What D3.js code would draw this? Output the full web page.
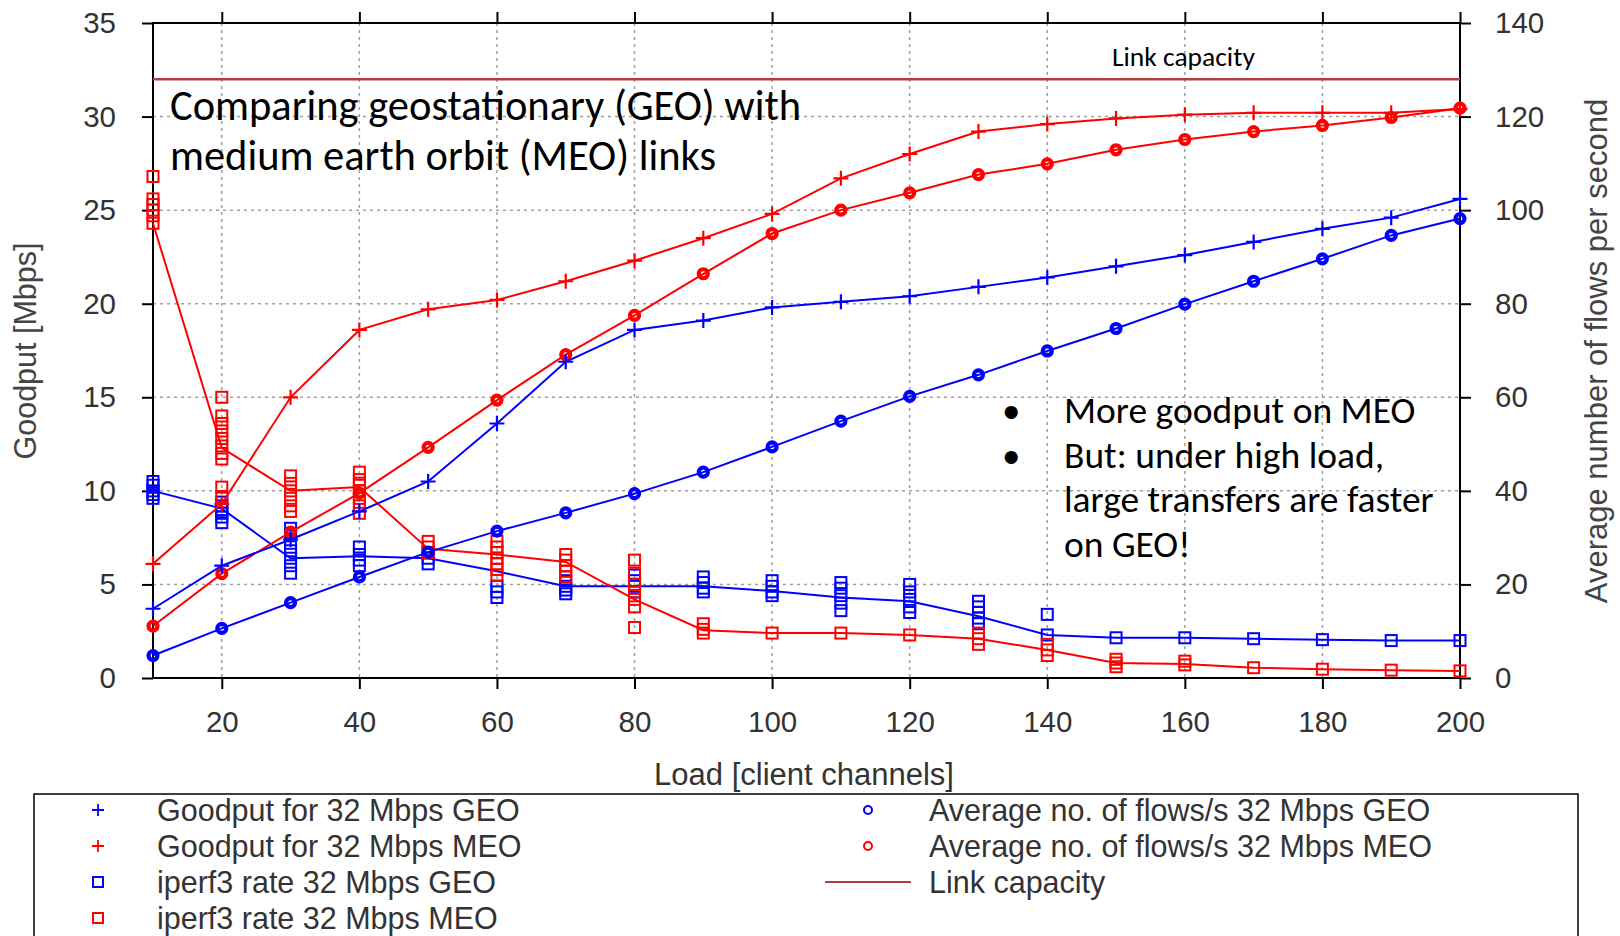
<!DOCTYPE html>
<html>
<head>
<meta charset="utf-8">
<script src="https://cdn.jsdelivr.net/npm/d3@7"></script>
<style>
  body { margin: 0; background: #fff; }
  svg text { font-family: "Liberation Sans", Arial, sans-serif; }
  .note { font-family: Carlito, Calibri, Lato, sans-serif; fill: #000; }
</style>
</head>
<body>
<div id="chart"></div>
<script>
// Load [client channels]
const load = [10, 20, 30, 40, 50, 60, 70, 80, 90, 100, 110, 120, 130, 140, 150, 160, 170, 180, 190, 200];

// Goodput [Mbps]
const goodputGEO = [3.7, 6.0, 7.4, 8.9, 10.5, 13.6, 16.9, 18.6, 19.1, 19.8, 20.1, 20.4, 20.9, 21.4, 22.0, 22.6, 23.3, 24.0, 24.6, 25.6];
const goodputMEO = [6.1, 9.3, 15.0, 18.6, 19.7, 20.2, 21.2, 22.3, 23.5, 24.8, 26.7, 28.0, 29.2, 29.6, 29.9, 30.1, 30.2, 30.2, 30.2, 30.4];

// iperf3 rate [Mbps]: mean line and individual samples
const iperfGEO = [10.0, 9.05, 6.4, 6.5, 6.4, 5.7, 4.9, 4.9, 4.9, 4.65, 4.3, 4.1, 3.3, 2.3, 2.15, 2.15, 2.1, 2.05, 2.0, 2.0];
const iperfGEOSamples = [
  [10.5, 10.3, 10.0, 9.8, 9.6],
  [9.4, 9.2, 9.0, 8.8, 8.6, 8.3],
  [8.0, 7.6, 7.2, 6.8, 6.4, 6.0, 5.6],
  [7.0, 6.6, 6.3, 6.0],
  [6.7, 6.4, 6.1],
  [4.9, 4.6, 4.3],
  [5.2, 4.9, 4.7, 4.5],
  [5.5, 5.2, 4.9, 4.6],
  [5.4, 5.1, 4.8, 4.6],
  [5.2, 4.9, 4.6, 4.4],
  [5.1, 4.8, 4.4, 4.0, 3.6],
  [5.0, 4.6, 4.2, 3.8, 3.5],
  [4.1, 3.8, 3.5, 3.2, 2.9],
  [3.4, 2.3],
  [2.15], [2.15], [2.1], [2.05], [2.0], [2.0]
];
const iperfMEO = [24.3, 12.3, 10.0, 10.2, 6.9, 6.6, 6.2, 4.2, 2.55, 2.4, 2.4, 2.3, 2.1, 1.5, 0.8, 0.75, 0.55, 0.47, 0.42, 0.38];
const iperfMEOSamples = [
  [26.8, 25.6, 25.3, 25.0, 24.7, 24.3],
  [15.0, 14.0, 13.6, 13.2, 12.8, 12.4, 12.0, 11.7, 10.2, 9.7],
  [10.8, 10.4, 10.0, 9.6, 9.2, 8.9],
  [11.0, 10.6, 10.3, 10.0, 9.6, 9.2, 8.8],
  [7.3, 7.0, 6.7],
  [7.3, 7.0, 6.7, 6.4, 6.1, 5.8, 5.5],
  [6.6, 6.3, 6.0, 5.7, 5.4],
  [6.3, 5.6, 5.0, 4.6, 4.2, 3.8, 2.7],
  [2.9, 2.6, 2.4],
  [2.4], [2.4], [2.3],
  [2.4, 2.1, 1.8],
  [1.8, 1.5, 1.2],
  [1.0, 0.8, 0.6],
  [0.9, 0.7],
  [0.55], [0.47], [0.42], [0.38]
];

// Average number of flows per second (right axis)
const flowsGEO = [4.8, 10.6, 16.1, 21.6, 26.9, 31.4, 35.3, 39.4, 44.0, 49.4, 54.9, 60.2, 64.8, 69.9, 74.7, 79.9, 84.8, 89.6, 94.6, 98.2];
const flowsMEO = [11.1, 22.3, 31.2, 39.5, 49.3, 59.4, 69.1, 77.5, 86.4, 95.0, 100.0, 103.7, 107.6, 109.9, 112.9, 115.1, 116.8, 118.1, 119.8, 121.8];

const linkCapacity = 32;

// ticks
const xTicks = [20, 40, 60, 80, 100, 120, 140, 160, 180, 200];
const yTicks = [0, 5, 10, 15, 20, 25, 30, 35];
const y2Ticks = [0, 20, 40, 60, 80, 100, 120, 140];

const blue = "#0000ff", red = "#ff0000", capColor = "#b43c3c";

const W = 1620, H = 936;
const plot = { left: 153, right: 1460, top: 23, bottom: 678 };

const svg = d3.select("#chart").append("svg")
  .attr("width", W).attr("height", H);

const x = d3.scaleLinear().domain([10, 200]).range([plot.left, plot.right]);
const y = d3.scaleLinear().domain([0, 35]).range([plot.bottom, plot.top]);
const y2 = d3.scaleLinear().domain([0, 140]).range([plot.bottom, plot.top]);

// grid
const grid = svg.append("g").attr("stroke", "#a0a0a0").attr("stroke-width", 1.5)
  .attr("stroke-dasharray", "3,4");
grid.selectAll(".gx").data(xTicks.filter(d => d < 200)).enter().append("line")
  .attr("x1", d => x(d)).attr("x2", d => x(d))
  .attr("y1", plot.top).attr("y2", plot.bottom);
grid.selectAll(".gy").data(yTicks.filter(d => d > 0 && d < 35)).enter().append("line")
  .attr("x1", plot.left).attr("x2", plot.right)
  .attr("y1", d => y(d)).attr("y2", d => y(d));

// axes
function styleAxis(g) {
  g.select(".domain").remove();
  g.selectAll(".tick line").attr("stroke", "#000").attr("stroke-width", 2);
  g.selectAll(".tick text").attr("fill", "#333").style("font-size", "29.5px");
}
svg.append("g").attr("transform", `translate(0,${plot.bottom})`)
  .call(d3.axisBottom(x).tickValues(xTicks).tickSize(11).tickPadding(22).tickFormat(d3.format("d")))
  .call(styleAxis);
svg.append("g").attr("transform", `translate(0,${plot.top})`)
  .call(d3.axisTop(x).tickValues(xTicks).tickSize(11).tickFormat(""))
  .call(styleAxis);
svg.append("g").attr("transform", `translate(${plot.left},0)`)
  .call(d3.axisLeft(y).tickValues(yTicks).tickSize(11).tickPadding(26))
  .call(styleAxis);
svg.append("g").attr("transform", `translate(${plot.right},0)`)
  .call(d3.axisRight(y2).tickValues(y2Ticks).tickSize(11).tickPadding(24))
  .call(styleAxis);

svg.append("rect")
  .attr("x", plot.left).attr("y", plot.top)
  .attr("width", plot.right - plot.left).attr("height", plot.bottom - plot.top)
  .attr("fill", "none").attr("stroke", "#000").attr("stroke-width", 2);

// axis titles
svg.append("text")
  .attr("transform", `translate(36,351) rotate(-90)`)
  .attr("text-anchor", "middle").attr("fill", "#444").style("font-size", "30.5px")
  .text("Goodput [Mbps]");
svg.append("text")
  .attr("transform", `translate(1607,351) rotate(-90)`)
  .attr("text-anchor", "middle").attr("fill", "#444").style("font-size", "31px")
  .text("Average number of flows per second");
svg.append("text")
  .attr("x", 804).attr("y", 785)
  .attr("text-anchor", "middle").attr("fill", "#333").style("font-size", "31px")
  .text("Load [client channels]");

// link capacity
svg.append("line")
  .attr("x1", plot.left).attr("x2", plot.right)
  .attr("y1", y(linkCapacity)).attr("y2", y(linkCapacity))
  .attr("stroke", capColor).attr("stroke-width", 2.5);

// markers
function plusPath(s) { return `M${-s},0H${s}M0,${-s}V${s}`; }
function drawLine(vals, scale, color) {
  const line = d3.line().x((d, i) => x(load[i])).y(d => scale(d));
  svg.append("path").datum(vals)
    .attr("d", line).attr("fill", "none")
    .attr("stroke", color).attr("stroke-width", 2);
}
function drawPlus(vals, scale, color) {
  svg.append("g").selectAll("path").data(vals).enter().append("path")
    .attr("transform", (d, i) => `translate(${x(load[i])},${scale(d)})`)
    .attr("d", plusPath(7.5)).attr("stroke", color).attr("stroke-width", 2.2).attr("fill", "none");
}
function drawCircles(vals, scale, color) {
  svg.append("g").selectAll("circle").data(vals).enter().append("circle")
    .attr("cx", (d, i) => x(load[i])).attr("cy", d => scale(d)).attr("r", 4.5)
    .attr("stroke", color).attr("stroke-width", 4.2).attr("fill", "none");
}
function drawSquares(samples, color) {
  const pts = [];
  samples.forEach((arr, i) => arr.forEach(v => pts.push([load[i], v])));
  svg.append("g").selectAll("rect").data(pts).enter().append("rect")
    .attr("x", d => x(d[0]) - 5.5).attr("y", d => y(d[1]) - 5.5)
    .attr("width", 11).attr("height", 11)
    .attr("stroke", color).attr("stroke-width", 2).attr("fill", "none");
}

drawLine(iperfGEO, y, blue);
drawSquares(iperfGEOSamples, blue);
drawLine(iperfMEO, y, red);
drawSquares(iperfMEOSamples, red);
drawLine(flowsGEO, y2, blue);
drawCircles(flowsGEO, y2, blue);
drawLine(flowsMEO, y2, red);
drawCircles(flowsMEO, y2, red);
drawLine(goodputGEO, y, blue);
drawPlus(goodputGEO, y, blue);
drawLine(goodputMEO, y, red);
drawPlus(goodputMEO, y, red);

// annotations
svg.append("text").attr("class", "note")
  .attr("x", 1112).attr("y", 66).style("font-size", "27.5px").text("Link capacity");
svg.append("text").attr("class", "note")
  .attr("x", 170).attr("y", 120).style("font-size", "42.5px").text("Comparing geostationary (GEO) with");
svg.append("text").attr("class", "note")
  .attr("x", 170).attr("y", 170).style("font-size", "42.5px").text("medium earth orbit (MEO) links");

const bullets = [
  { bullet: true, text: "More goodput on MEO" },
  { bullet: true, text: "But: under high load," },
  { bullet: false, text: "large transfers are faster" },
  { bullet: false, text: "on GEO!" }
];
bullets.forEach((b, i) => {
  const by = 423 + i * 44.5;
  if (b.bullet) {
    svg.append("text").attr("class", "note").attr("x", 1002).attr("y", by)
      .style("font-size", "37px").text("\u2022");
  }
  svg.append("text").attr("class", "note").attr("x", 1064).attr("y", by)
    .style("font-size", "37.5px").text(b.text);
});

// legend
svg.append("rect")
  .attr("x", 34).attr("y", 794).attr("width", 1544).attr("height", 160)
  .attr("fill", "none").attr("stroke", "#000").attr("stroke-width", 1.5);

const legendItems = [
  { label: "Goodput for 32 Mbps GEO", color: blue, kind: "plus", col: 0, row: 0 },
  { label: "Goodput for 32 Mbps MEO", color: red, kind: "plus", col: 0, row: 1 },
  { label: "iperf3 rate 32 Mbps GEO", color: blue, kind: "square", col: 0, row: 2 },
  { label: "iperf3 rate 32 Mbps MEO", color: red, kind: "square", col: 0, row: 3 },
  { label: "Average no. of flows/s 32 Mbps GEO", color: blue, kind: "circle", col: 1, row: 0 },
  { label: "Average no. of flows/s 32 Mbps MEO", color: red, kind: "circle", col: 1, row: 1 },
  { label: "Link capacity", color: capColor, kind: "line", col: 1, row: 2 }
];
const legCols = [{ mark: 98, text: 157 }, { mark: 868, text: 929 }];
legendItems.forEach(it => {
  const cy = 810 + it.row * 36;
  const c = legCols[it.col];
  const g = svg.append("g");
  if (it.kind === "plus") {
    g.append("path").attr("transform", `translate(${c.mark},${cy})`).attr("d", plusPath(6))
      .attr("stroke", it.color).attr("stroke-width", 1.8);
  } else if (it.kind === "square") {
    g.append("rect").attr("x", c.mark - 5).attr("y", cy - 5).attr("width", 10).attr("height", 10)
      .attr("fill", "none").attr("stroke", it.color).attr("stroke-width", 2);
  } else if (it.kind === "circle") {
    g.append("circle").attr("cx", c.mark).attr("cy", cy).attr("r", 4)
      .attr("fill", "none").attr("stroke", it.color).attr("stroke-width", 2);
  } else {
    g.append("line").attr("x1", 825).attr("x2", 911).attr("y1", cy).attr("y2", cy)
      .attr("stroke", it.color).attr("stroke-width", 2);
  }
  g.append("text").attr("x", c.text).attr("y", cy + 10.5)
    .attr("fill", "#333").style("font-size", "30.5px").text(it.label);
});
</script>
</body>
</html>
